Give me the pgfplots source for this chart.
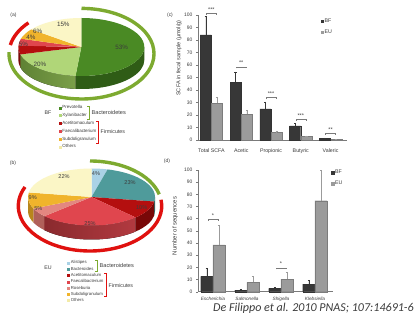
\documentclass[border=0pt]{standalone}
\usepackage{fontspec}
\setmainfont{Liberation Sans}
\newfontfamily\citefont{Carlito}
\usepackage{pgfplots}
\pgfplotsset{compat=1.18}

\definecolor{bfbar}{HTML}{373737}
\definecolor{eubar}{HTML}{9B9B9B}
\definecolor{axgray}{HTML}{7A7A7A}
\definecolor{txt}{HTML}{3C3C3C}
\definecolor{dgreen}{HTML}{4A8A24}
\definecolor{dgreenS}{HTML}{2F5C16}
\definecolor{lgreen}{HTML}{B0D678}
\definecolor{lgreenS}{HTML}{7EA24C}
\definecolor{lgreenSL}{HTML}{5F8234}
\definecolor{dred}{HTML}{B40F0F}
\definecolor{dredS}{HTML}{780808}
\definecolor{mred}{HTML}{E0464E}
\definecolor{mredS}{HTML}{B23A40}
\definecolor{mredSL}{HTML}{8A2A2E}
\definecolor{orng}{HTML}{F0B42C}
\definecolor{orngS}{HTML}{B8861C}
\definecolor{pyel}{HTML}{FBF6C6}
\definecolor{pyelL}{HTML}{F3EBA8}
\definecolor{lblue}{HTML}{AAD2E6}
\definecolor{tealc}{HTML}{4F9B9B}
\definecolor{tealS}{HTML}{356B6B}
\definecolor{pinkc}{HTML}{E38780}
\definecolor{pinkS}{HTML}{B0605A}
\definecolor{ringg}{HTML}{7DAA30}
\definecolor{ringr}{HTML}{E0110F}

\newcommand\pietop[3]{\fill[#3] (\pcx,\pcy) -- ++(canvas polar cs:angle=#1,x radius=\prx,y radius=\pry) arc[start angle=#1, end angle=#2, x radius=\prx, y radius=\pry] -- cycle;}
\newcommand\pieside[3]{\fill[#3] (\pcx,\pcy) ++(canvas polar cs:angle=#1,x radius=\prx,y radius=\pry) arc[start angle=#1, end angle=#2, x radius=\prx, y radius=\pry] -- ++(0bp,-\pdep) arc[start angle=#2, end angle=#1, x radius=\prx, y radius=\pry] -- cycle;}
\newcommand\ringarc[3]{\draw[#3, line width=3.4bp] (\rcx,\rcy) ++(canvas polar cs:angle=#1,x radius=\rrx,y radius=\rry) arc[start angle=#1, end angle=#2, x radius=\rrx, y radius=\rry];}
\newcommand\lt[1]{\textcolor{txt}{#1}}

\pgfplotsset{
  sq/.style={legend image code/.code={\fill[#1] (0bp,-1bp) rectangle (2bp,1bp);}},
  pieax/.style={hide axis, clip=false, x=1bp, y=1bp, xmin=0, xmax=418, ymin=0, ymax=323,
    at={(0,0)}, anchor=south west, legend cell align=left,
    legend style={anchor=north west, draw=none, fill=none, inner sep=0pt,
      nodes={inner sep=0pt, text height=3.2bp, text depth=0.9bp},
      /tikz/every odd column/.append style={column sep=1.2bp}}},
  barax/.style={scale only axis, anchor=south west, ybar, ymin=0, ymax=100, ytick={0,10,...,100},
    axis lines=left, axis line style={-, draw=axgray, line width=0.45bp},
    tick align=outside, major tick length=2bp,
    xtick style={draw=none}, ytick style={draw=axgray, line width=0.4bp},
    tick label style={font=\fontsize{5}{5}\selectfont, text=txt},
    /pgf/number format/assume math mode=true,
    ylabel style={text=txt}, clip=false,
    legend cell align=left,
    legend style={anchor=north west, draw=none, fill=none, inner sep=0pt,
      font=\fontsize{5.3}{5.3}\selectfont,
      nodes={inner sep=0pt, text height=3.8bp, text depth=1.1bp}, row sep=6bp,
      /tikz/every odd column/.append style={column sep=1.2bp}}},
  errup/.style={error bars/y dir=plus, error bars/y explicit,
    error bars/error bar style={line width=0.45bp, draw=#1},
    error bars/error mark options={rotate=90, mark size=1.1bp, line width=0.45bp, draw=#1}},
  bsq/.style={legend image code/.code={\fill[#1] (0bp,-1.2bp) rectangle (2.4bp,1.2bp);}},
}

\begin{document}
\begin{tikzpicture}
\fill[white] (0,0) rectangle (418bp,323bp);

% ================= (a) BF pie =================
\pgfmathsetmacro\ta{53+20+5+4+6+15}
\pgfmathsetmacro\ua{360/\ta}
\pgfmathsetmacro\aA{90}
\pgfmathsetmacro\aB{\aA-\ua*53}
\pgfmathsetmacro\aC{\aB-\ua*20}
\pgfmathsetmacro\aD{\aC-\ua*5}
\pgfmathsetmacro\aE{\aD-\ua*4}
\pgfmathsetmacro\aF{\aE-\ua*6}
\pgfmathsetmacro\aG{\aF-\ua*15}
\def\pcx{81.3}\def\pcy{276}\def\prx{63bp}\def\pry{29bp}\def\pdep{13bp}
\def\rcx{81.5}\def\rcy{269.3}\def\rrx{72.5bp}\def\rry{45.3bp}
\begin{axis}[pieax,
  legend style={at={(axis description cs:0.140,0.6734)}, row sep=3.7bp, font=\fontsize{4.5}{4.5}\selectfont}]
\pieside{0}{\aB}{dgreenS}
\pieside{\aB}{\aC}{left color=lgreenSL, right color=lgreenS}
\pieside{\aC}{-180}{dredS}
\pietop{\aA}{\aB}{dgreen}
\pietop{\aB}{\aC}{lgreen}
\pietop{\aC}{\aD}{dred}
\pietop{\aD}{\aE}{mred}
\pietop{\aE}{\aF}{orng}
\pietop{\aF}{\aG}{pyel}
\ringarc{90}{-182}{ringg}
\ringarc{169}{137}{ringr}
\begin{scope}[every node/.style={font=\fontsize{6.3}{6.3}\selectfont, text=txt, inner sep=0pt}]
\node at (121.7,275.3) {53\%};
\node at (40,258.7) {20\%};
\node at (23.5,278.7) {5\%};
\node at (31,285.3) {4\%};
\node at (37.7,292) {6\%};
\node at (63.3,298.7) {15\%};
\end{scope}
\addlegendimage{sq=dgreen}\addlegendentry{\lt{Prevotella}}
\addlegendimage{sq=lgreen}\addlegendentry{\lt{Xylanibacter}}
\addlegendimage{sq=dred}\addlegendentry{\lt{Acetitomaculum}}
\addlegendimage{sq=mred}\addlegendentry{\lt{Faecalibacterium}}
\addlegendimage{sq=orng}\addlegendentry{\lt{Subdoligranulum}}
\addlegendimage{sq=pyelL}\addlegendentry{\lt{Others}}
\draw[ringg, line width=0.7bp] (87,216.5) -- (89,216.5) -- (89,204) -- (87,204);
\draw[ringr, line width=0.7bp] (96,201.5) -- (98,201.5) -- (98,179.5) -- (96,179.5);
\node[anchor=west, font=\fontsize{5.6}{5.6}\selectfont, text=txt, inner sep=0pt] at (91.5,210) {Bacteroidetes};
\node[anchor=west, font=\fontsize{5.3}{5.3}\selectfont, text=txt, inner sep=0pt] at (100.5,191) {Firmicutes};
\node[font=\fontsize{5.3}{5.3}\selectfont, text=txt, inner sep=0pt] at (48,210) {BF};
\end{axis}

% ================= (b) EU pie =================
\pgfmathsetmacro\tb{4+23+10+25+5+9+22}
\pgfmathsetmacro\ub{360/\tb}
\pgfmathsetmacro\bA{90}
\pgfmathsetmacro\bB{\bA-\ub*4}
\pgfmathsetmacro\bC{\bB-\ub*23}
\pgfmathsetmacro\bD{\bC-\ub*10}
\pgfmathsetmacro\bE{\bD-\ub*25}
\pgfmathsetmacro\bF{\bE-\ub*5}
\pgfmathsetmacro\bG{\bF-\ub*9}
\pgfmathsetmacro\bH{\bG-\ub*22}
\def\pcx{91.5}\def\pcy{126}\def\prx{63.5bp}\def\pry{28.5bp}\def\pdep{14bp}
\def\rcx{90}\def\rcy{117}\def\rrx{71.7bp}\def\rry{45bp}
\begin{axis}[pieax,
  legend style={at={(axis description cs:0.1603,0.1929)}, row sep=2.3bp, font=\fontsize{4.3}{4.3}\selectfont,
    nodes={text height=3.1bp, text depth=0.9bp}}]
\pieside{0}{\bC}{tealS}
\pieside{\bC}{\bD}{dredS}
\pieside{\bD}{\bE}{left color=mredSL, right color=mredS}
\pieside{\bE}{\bF}{pinkS}
\pieside{\bF}{-180}{orngS}
\pietop{\bA}{\bB}{lblue}
\pietop{\bB}{\bC}{tealc}
\pietop{\bC}{\bD}{dred}
\pietop{\bD}{\bE}{mred}
\pietop{\bE}{\bF}{pinkc}
\pietop{\bF}{\bG}{orng}
\pietop{\bG}{\bH}{pyel}
\ringarc{90}{15}{ringg}
\ringarc{8}{-205}{ringr}
\begin{scope}[every node/.style={font=\fontsize{5.6}{5.6}\selectfont, text=txt, inner sep=0pt}]
\node at (96,149.7) {4\%};
\node at (130,140.3) {23\%};
\node at (141.7,115.3) {10\%};
\node at (90,99.7) {25\%};
\node at (38.3,114) {5\%};
\node at (32.7,125.7) {9\%};
\node at (64,146.3) {22\%};
\end{scope}
\addlegendimage{sq=lblue}\addlegendentry{\lt{Alistipes}}
\addlegendimage{sq=tealc}\addlegendentry{\lt{Bacteroides}}
\addlegendimage{sq=dred}\addlegendentry{\lt{Acetitomaculum}}
\addlegendimage{sq=mred}\addlegendentry{\lt{Faecalibacterium}}
\addlegendimage{sq=pinkc}\addlegendentry{\lt{Roseburia}}
\addlegendimage{sq=orng}\addlegendentry{\lt{Subdoligranulum}}
\addlegendimage{sq=pyelL}\addlegendentry{\lt{Others}}
\draw[ringg, line width=0.7bp] (95,62.3) -- (97,62.3) -- (97,51.3) -- (95,51.3);
\draw[ringr, line width=0.7bp] (104,49.7) -- (106,49.7) -- (106,26.2) -- (104,26.2);
\node[anchor=west, font=\fontsize{5.6}{5.6}\selectfont, text=txt, inner sep=0pt] at (99.5,57) {Bacteroidetes};
\node[anchor=west, font=\fontsize{5.3}{5.3}\selectfont, text=txt, inner sep=0pt] at (108.5,37) {Firmicutes};
\node[font=\fontsize{5.3}{5.3}\selectfont, text=txt, inner sep=0pt] at (48,55) {EU};
\end{axis}

% ================= (c) SCFA bars =================
\begin{axis}[barax, at={(198bp,183bp)}, width=149bp, height=125bp,
  xmin=-0.45, xmax=4.55, bar width=0.37,
  xtick={0,1,2,3,4}, xticklabels={Total SCFA,Acetic,Propionic,Butyric,Valeric},
  xticklabel style={yshift=-3.3bp, font=\fontsize{5.3}{5.3}\selectfont},
  ylabel={SCFA in fecal sample (µmol/g)},
  ylabel style={at={(axis description cs:-0.128,0.656)}, anchor=center, font=\fontsize{5.6}{5.6}\selectfont},
  legend style={at={(axis description cs:0.822,0.972)}}]
\addplot[fill=bfbar, draw=black!80, line width=0.3bp, bar shift=-0.19, errup=bfbar, bsq=bfbar] coordinates {(0,84) +- (0,15) (1,46) +- (0,8.5) (2,24.8) +- (0,5.6) (3,11.2) +- (0,2.1) (4,1.3) +- (0,0.4)};
\addlegendentry{\lt{BF}}
\addplot[fill=eubar, draw=eubar!80!black, line width=0.3bp, bar shift=0.19, errup=eubar, bsq=eubar] coordinates {(0,29.5) +- (0,4.7) (1,20.5) +- (0,3.2) (2,5.9) +- (0,1.3) (3,2.7) +- (0,0.7) (4,0.5) +- (0,0.2)};
\addlegendentry{\lt{EU}}
\begin{scope}[axgray, line width=0.4bp]
\draw (-0.17,100.3) -- (-0.17,101.6) -- (0.17,101.6) -- (0.17,100.3);
\draw (0.83,57.3) -- (0.83,58.6) -- (1.17,58.6) -- (1.17,57.3);
\draw (1.83,32.7) -- (1.83,34) -- (2.17,34) -- (2.17,32.7);
\draw (2.83,15.5) -- (2.83,16.8) -- (3.17,16.8) -- (3.17,15.5);
\draw (3.83,4) -- (3.83,5.3) -- (4.17,5.3) -- (4.17,4);
\end{scope}
\begin{scope}[every node/.style={font=\fontsize{5.5}{5.5}\selectfont, text=txt, inner sep=0pt, anchor=base}]
\node at (0,103) {***};
\node at (1,60) {**};
\node at (2,35.4) {***};
\node at (3,18.2) {***};
\node at (4,6.7) {**};
\end{scope}
\end{axis}

% ================= (d) sequences bars =================
\begin{axis}[barax, at={(198bp,31.3bp)}, width=135bp, height=121.7bp,
  xmin=-0.44, xmax=3.53, bar width=0.36,
  xtick={0,1,2,3}, xticklabels={Escherichia,Salmonella,Shigella,Klebsiella},
  xticklabel style={font=\fontsize{4.7}{4.7}\selectfont\itshape},
  ylabel={Number of sequences},
  ylabel style={at={(axis description cs:-0.17,0.54)}, anchor=center, font=\fontsize{6}{6}\selectfont},
  legend style={at={(axis description cs:0.985,1.0)}}]
\addplot[fill=bfbar, draw=black!80, line width=0.3bp, bar shift=-0.18, errup=bfbar, bsq=bfbar] coordinates {(0,12.6) +- (0,6.9) (1,1.1) +- (0,0.9) (2,2.8) +- (0,1.0) (3,6.3) +- (0,3.3)};
\addlegendentry{\lt{BF}}
\addplot[fill=eubar, draw=eubar!80!black, line width=0.3bp, bar shift=0.18, errup=eubar, bsq=eubar] coordinates {(0,38.4) +- (0,16.4) (1,7.7) +- (0,5.2) (2,10.4) +- (0,5.2) (3,74.8) +- (0,24.7)};
\addlegendentry{\lt{EU}}
\begin{scope}[axgray, line width=0.4bp]
\draw (-0.15,58.1) -- (-0.15,59.5) -- (0.15,59.5) -- (0.15,58.1);
\draw (1.85,18.3) -- (1.85,19.7) -- (2.15,19.7) -- (2.15,18.3);
\end{scope}
\begin{scope}[every node/.style={font=\fontsize{5.5}{5.5}\selectfont, text=txt, inner sep=0pt, anchor=base}]
\node at (0,61) {*};
\node at (2,21.2) {*};
\end{scope}
\end{axis}

% ================= panel letters and citation =================
\begin{scope}[every node/.style={font=\fontsize{5}{5}\selectfont, text=txt, inner sep=0pt}]
\node at (13.5bp,308bp) {(a)};
\node at (13bp,159.5bp) {(b)};
\node at (170bp,308bp) {(c)};
\node at (167bp,161.3bp) {(d)};
\end{scope}
\node[anchor=base west, inner sep=0pt, text=txt] at (213bp,11.5bp) {\citefont\itshape\fontsize{12.1}{14}\selectfont De Filippo et al. 2010 PNAS; 107:14691-6};

\pgfresetboundingbox
\useasboundingbox (0,0) rectangle (418bp,323bp);
\end{tikzpicture}
\end{document}
